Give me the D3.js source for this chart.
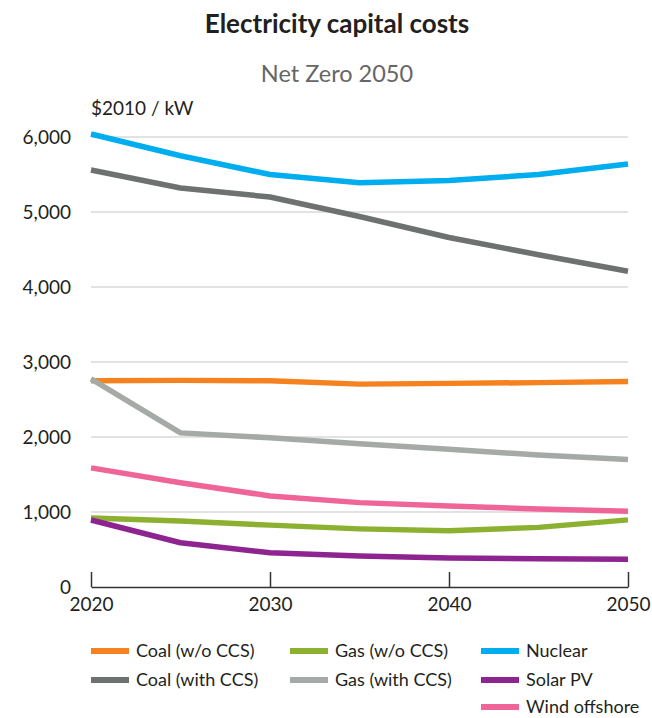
<!DOCTYPE html>
<html><head><meta charset="utf-8">
<script src="https://cdn.jsdelivr.net/npm/d3@7"></script>
<style>
body{margin:0;background:#fff;}
svg{display:block;font-family:Lato,"Open Sans",sans-serif;}
</style></head>
<body><svg id="chart" width="652" height="718"></svg>
<script>
const years = [2020, 2025, 2030, 2035, 2040, 2045, 2050];
const seriesNames = ["Coal (w/o CCS)", "Coal (with CCS)", "Gas (w/o CCS)", "Gas (with CCS)", "Nuclear", "Solar PV", "Wind offshore"];
const seriesColors = ["#f5821f", "#6d7170", "#8cb02f", "#a5aaa6", "#00adee", "#8e2490", "#ef6598"];
const coalNoCCS = [2750, 2755, 2750, 2705, 2715, 2725, 2740];
const coalCCS = [5560, 5320, 5200, 4940, 4660, 4430, 4210];
const gasNoCCS = [920, 880, 825, 775, 750, 795, 895];
const gasCCS = [2775, 2055, 1990, 1910, 1838, 1760, 1700];
const nuclear = [6040, 5750, 5500, 5390, 5420, 5500, 5640];
const solarPV = [893, 590, 456, 414, 386, 376, 369];
const windOffshore = [1588, 1390, 1214, 1125, 1080, 1040, 1009];
const yTicks = [0, 1000, 2000, 3000, 4000, 5000, 6000];
const xTicks = [2020, 2030, 2040, 2050];
const titleText = "Electricity capital costs";
const subtitleText = "Net Zero 2050";
const unitText = "$2010 / kW";

const allSeries = [coalNoCCS, coalCCS, gasNoCCS, gasCCS, nuclear, solarPV, windOffshore];

const svg = d3.select("#chart");
const x = d3.scaleLinear().domain([2020, 2050]).range([91, 628]);
const y = d3.scaleLinear().domain([0, 6000]).range([587, 137]);
const ink = "#231f20";

svg.append("text").attr("x", 337).attr("y", 33).attr("text-anchor", "middle")
  .attr("font-size", 26).attr("font-weight", "bold").attr("fill", ink).text(titleText);
svg.append("text").attr("x", 337).attr("y", 82).attr("text-anchor", "middle")
  .attr("font-size", 23.5).attr("fill", "#666").text(subtitleText);
svg.append("text").attr("x", 91).attr("y", 115)
  .attr("font-size", 19).attr("fill", ink).text(unitText);

// y tick labels
const yAxis = d3.axisLeft(y).tickValues(yTicks).tickFormat(d3.format(",")).tickSize(0).tickPadding(0);
const gy = svg.append("g").attr("transform", "translate(71,0)").call(yAxis);
gy.select(".domain").remove();
gy.selectAll("text").attr("font-size", 19).attr("fill", ink).attr("font-family", "Lato, sans-serif");

// gridlines
svg.append("g").selectAll("line").data(yTicks.filter(d => d > 0)).join("line")
  .attr("x1", x(2020)).attr("x2", x(2050)).attr("y1", d => y(d)).attr("y2", d => y(d))
  .attr("stroke", "#d9d9d9").attr("stroke-width", 1.5);

// x axis with ticks pointing up
const xAxis = d3.axisBottom(x).tickValues(xTicks).tickFormat(d3.format("d")).tickSize(-15).tickSizeOuter(0).tickPadding(11);
const gx = svg.append("g").attr("transform", `translate(0,${y(0)})`).call(xAxis);
gx.select(".domain").attr("stroke", "#333").attr("stroke-width", 1.5);
gx.selectAll(".tick line").attr("stroke", "#333").attr("stroke-width", 1.5);
gx.selectAll("text").attr("font-size", 19).attr("fill", ink).attr("font-family", "Lato, sans-serif").attr("dy", "0.71em");

// lines
const line = d3.line().x((d, i) => x(years[i])).y(d => y(d));
svg.append("g").selectAll("path").data(allSeries).join("path")
  .attr("d", d => line(d)).attr("fill", "none")
  .attr("stroke", (d, i) => seriesColors[i]).attr("stroke-width", 5.5)
  .attr("stroke-linejoin", "round");

// legend (column-major, 3 columns)
const colX = [91, 290, 481];
const rowY = [651, 680, 707];
const lg = svg.append("g").selectAll("g").data(seriesNames).join("g")
  .attr("transform", (d, i) => `translate(${colX[Math.min(2, Math.floor(i / 2))]},${rowY[i === 6 ? 2 : i % 2]})`);
lg.append("line").attr("x1", 0).attr("x2", 38).attr("y1", 0).attr("y2", 0)
  .attr("stroke", (d, i) => seriesColors[i]).attr("stroke-width", 6);
lg.append("text").attr("x", 45).attr("y", 0).attr("dy", "0.35em")
  .attr("font-size", 18).attr("fill", ink).text(d => d);
</script></body></html>
